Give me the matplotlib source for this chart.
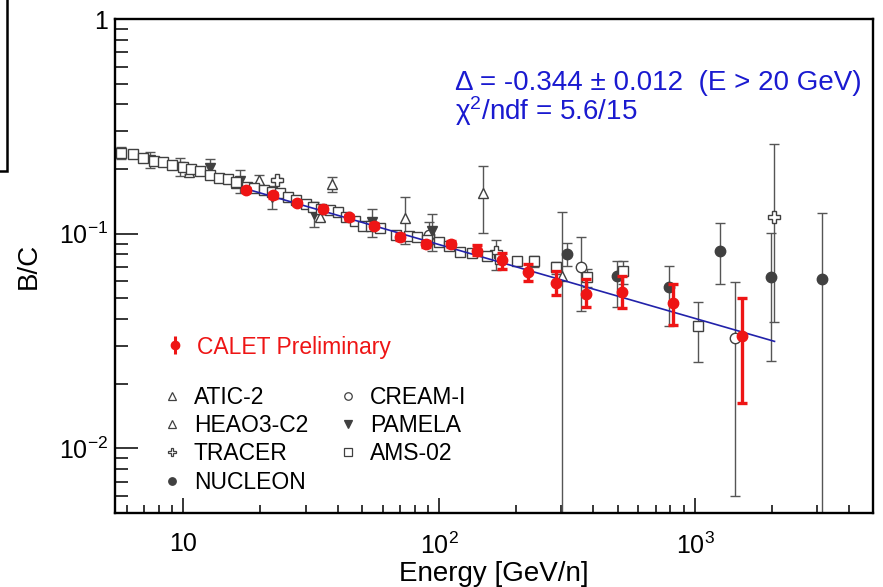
# B/C ratio vs kinetic energy per nucleon: CALET preliminary with other measurements
import numpy as np
import matplotlib
matplotlib.use('Agg')
import matplotlib.pyplot as plt
from matplotlib.ticker import FixedLocator, NullFormatter
from matplotlib.patches import Rectangle
from matplotlib.lines import Line2D

plt.rcParams['font.family'] = ['Liberation Sans', 'DejaVu Sans']
plt.rcParams['mathtext.fontset'] = 'custom'
plt.rcParams['mathtext.rm'] = 'Liberation Sans'
plt.rcParams['mathtext.it'] = 'Liberation Sans:italic'
plt.rcParams['mathtext.default'] = 'regular'

# CALET preliminary
calet_e = [17.6, 22.3, 27.9, 35.1, 44.2, 55.7, 70.4, 88.8, 111, 140, 176, 222, 286, 375, 517, 818, 1520]
calet_bc = [0.160, 0.151, 0.139, 0.131, 0.119, 0.109, 0.0969, 0.0898, 0.0895, 0.0833, 0.0757,
            0.0661, 0.0587, 0.0525, 0.0533, 0.0476, 0.0332]
calet_lo = [0.004, 0.004, 0.003, 0.003, 0.003, 0.003, 0.003, 0.003, 0.003, 0.004, 0.007,
            0.006, 0.0067, 0.007, 0.008, 0.010, 0.017]
calet_hi = [0.004, 0.004, 0.003, 0.003, 0.003, 0.003, 0.003, 0.003, 0.003, 0.005, 0.006,
            0.0064, 0.008, 0.009, 0.0105, 0.011, 0.017]

# power-law fit above 20 GeV/n
fit_delta = -0.344
fit_norm = 0.0889   # B/C at 100 GeV/n
fit_emin, fit_emax = 17.0, 2040.0

# AMS-02
ams_e = [5.68, 6.36, 6.96, 7.66, 8.33, 9.03, 10.0, 10.75, 11.65, 12.67, 13.74, 14.9, 16.1, 17.7,
         18.9, 20.6, 22.1, 23.8, 25.6, 27.6, 30.0, 32.2, 34.6, 37.3, 40.2, 43.3, 47.0, 50.1,
         54.2, 58.8, 67.9, 75.9, 81.8, 89.8, 99.4, 109, 120, 134, 153, 173, 201, 235, 286,
         377, 522, 1021]
ams_bc = [0.237, 0.235, 0.226, 0.2185, 0.2146, 0.2094, 0.2034, 0.200, 0.196, 0.188, 0.1815,
          0.1796, 0.1746, 0.1654, 0.1637, 0.1597, 0.1568, 0.154, 0.1475, 0.1439, 0.1374, 0.1335,
          0.1307, 0.1288, 0.1265, 0.120, 0.1149, 0.1089, 0.1089, 0.1063, 0.099, 0.098, 0.096,
          0.093, 0.091, 0.088, 0.082, 0.081, 0.079, 0.0765, 0.0749, 0.0743, 0.0697, 0.0626,
          0.0673, 0.0373]
ams_lo = [0.003, 0.003, 0.003, 0.003, 0.003, 0.003, 0.003, 0.003, 0.003, 0.003, 0.003, 0.003,
          0.003, 0.003, 0.003, 0.003, 0.003, 0.003, 0.003, 0.003, 0.003, 0.003, 0.003, 0.003,
          0.003, 0.003, 0.003, 0.003, 0.003, 0.003, 0.003, 0.003, 0.003, 0.003, 0.003, 0.003,
          0.003, 0.003, 0.003, 0.003, 0.003, 0.0047, 0.0045, 0.006, 0.009, 0.012]
ams_hi = [0.003, 0.003, 0.003, 0.003, 0.003, 0.003, 0.003, 0.003, 0.003, 0.003, 0.003, 0.003,
          0.003, 0.003, 0.003, 0.003, 0.003, 0.003, 0.003, 0.003, 0.003, 0.003, 0.003, 0.003,
          0.003, 0.003, 0.003, 0.003, 0.003, 0.003, 0.003, 0.003, 0.003, 0.003, 0.003, 0.003,
          0.003, 0.003, 0.003, 0.003, 0.003, 0.0047, 0.0045, 0.006, 0.007, 0.0106]

# PAMELA
pam_e = [5.7, 7.43, 9.67, 12.67, 16.7, 22.1, 32.3, 54.6, 93.5]
pam_bc = [0.238, 0.221, 0.205, 0.202, 0.176, 0.148, 0.124, 0.113, 0.1033]
pam_err = [0.015, 0.018, 0.020, 0.020, 0.022, 0.018, 0.016, 0.017, 0.020]

# HEAO3-C2
heao_e = [10.5, 16.1, 34.3]
heao_bc = [0.193, 0.172, 0.119]
heao_err = [0.004, 0.004, 0.004]

# ATIC-2
atic_e = [19.7, 38.1, 73.6, 148, 301]
atic_bc = [0.178, 0.170, 0.118, 0.154, 0.0638]
atic_lo = [0.009, 0.013, 0.028, 0.053, 0.0628]
atic_hi = [0.009, 0.013, 0.030, 0.053, 0.0627]

# TRACER
tracer_e = [23.3, 166, 2024]
tracer_bc = [0.178, 0.0824, 0.120]
tracer_lo = [0.004, 0.015, 0.0813]
tracer_hi = [0.004, 0.011, 0.141]

# CREAM-I
cream_e = [91, 359, 1432]
cream_bc = [0.0985, 0.0702, 0.0326]
cream_lo = [0.009, 0.0266, 0.0266]
cream_hi = [0.015, 0.0266, 0.0268]

# NUCLEON
nuc_e = [316, 494, 791, 1253, 1982, 3140]
nuc_bc = [0.0805, 0.0638, 0.0562, 0.0834, 0.0627, 0.0615]
nuc_lo = [0.0095, 0.0184, 0.0189, 0.0254, 0.0372, 0.0605]
nuc_hi = [0.010, 0.011, 0.0148, 0.0283, 0.0376, 0.0628]

xticks = [10, 100, 1000]
xticklabels = ['10', '10$^{2}$', '10$^{3}$']
yticks = [0.01, 0.1, 1]
yticklabels = ['10$^{-2}$', '10$^{-1}$', '1']

fig = plt.figure(figsize=(8.83, 5.87), dpi=100)
ax = fig.add_axes([0.1302, 0.1261, 0.8585, 0.8415])
ax.set_xscale('log')
ax.set_yscale('log')

gray = '#404040'
bar_gray = '#555555'


def draw(e, bc, lo, hi, marker, face, ms):
    ax.errorbar(e, bc, yerr=[lo, hi], fmt=marker, mfc=face, mec=gray, ms=ms, mew=1.0,
                ecolor=bar_gray, elinewidth=1.0, capsize=3.5, capthick=1.0, zorder=2)
    # marker-only proxy for the legend
    return Line2D([], [], ls='none', marker=marker, mfc=face, mec=gray, ms=ms * 0.72, mew=0.9)


h_atic = draw(atic_e, atic_bc, atic_lo, atic_hi, '^', 'white', 7.5)
h_heao = draw(heao_e, heao_bc, heao_err, heao_err, '^', 'white', 7.5)
h_tracer = draw(tracer_e, tracer_bc, tracer_lo, tracer_hi, 'P', 'white', 8.5)
h_nuc = draw(nuc_e, nuc_bc, nuc_lo, nuc_hi, 'o', gray, 7.5)
h_cream = draw(cream_e, cream_bc, cream_lo, cream_hi, 'o', 'white', 7.5)
h_pam = draw(pam_e, pam_bc, pam_err, pam_err, 'v', gray, 7.5)
h_ams = draw(ams_e, ams_bc, ams_lo, ams_hi, 's', 'white', 7.5)

fit_x = np.logspace(np.log10(fit_emin), np.log10(fit_emax), 60)
ax.plot(fit_x, fit_norm * (fit_x / 100.0) ** fit_delta, color='#2222aa', lw=1.2, zorder=3)

red = '#ee1515'
ax.errorbar(calet_e, calet_bc, yerr=[calet_lo, calet_hi], fmt='o', color=red,
            ms=7.5, elinewidth=2.4, capsize=3.5, capthick=2.4, zorder=4)

ax.set_xlim(5.4, 4950)
ax.set_ylim(0.005, 1)

ax.xaxis.set_major_locator(FixedLocator(xticks))
ax.set_xticklabels(xticklabels)
ax.yaxis.set_major_locator(FixedLocator(yticks))
ax.set_yticklabels(yticklabels)
ax.xaxis.set_minor_formatter(NullFormatter())
ax.yaxis.set_minor_formatter(NullFormatter())

ax.tick_params(which='both', direction='in', top=False, right=False, width=1.1, labelsize=18)
ax.tick_params(axis='x', which='major', length=11, pad=14)
ax.tick_params(axis='x', which='minor', length=5.5)
ax.tick_params(axis='y', which='major', length=16.5, pad=5)
ax.tick_params(axis='y', which='minor', length=9.5)
for sp in ax.spines.values():
    sp.set_linewidth(1.7)

ax.set_xlabel('Energy [GeV/n]', fontsize=20)
ax.set_ylabel('B/C', fontsize=20)
ax.xaxis.set_label_coords(0.5, -0.097)
ax.yaxis.set_label_coords(-0.097, 0.5)

# fit result
blue = '#1a1ad0'
ax.text(0.4485, 0.897, '\u0394 = -0.344 \u00b1 0.012  (E > 20 GeV)\n\u03c7$^{2}$/ndf = 5.6/15',
        transform=ax.transAxes, color=blue, fontsize=20, va='top', ha='left',
        linespacing=0.92)

# legends
calet_bar = Line2D([], [], ls='none', marker='|', color=red, ms=13, mew=2.2)
calet_dot = Line2D([], [], ls='none', marker='o', color=red, ms=6)
leg1 = ax.legend([(calet_bar, calet_dot)], ['CALET Preliminary'], loc='center left',
                 bbox_to_anchor=(0.064, 0.336), frameon=False, fontsize=16.5,
                 borderpad=0, borderaxespad=0, handlelength=1.0, handletextpad=0.46)
leg1.get_texts()[0].set_color(red)
ax.add_artist(leg1)

others = [h_atic, h_heao, h_tracer, h_nuc, h_cream, h_pam, h_ams]
labels = ['ATIC-2', 'HEAO3-C2', 'TRACER', 'NUCLEON', 'CREAM-I', 'PAMELA', 'AMS-02']
ax.legend(others, labels, loc='center left', bbox_to_anchor=(0.060, 0.1478),
          ncol=2, frameon=False, fontsize=16.5, borderpad=0, borderaxespad=0,
          handlelength=1.0, handletextpad=0.46, columnspacing=1.25, labelspacing=0.22)

# edge of the neighbouring panel
fig.add_artist(Rectangle((-0.02, 0.7087), 0.0279, 0.4, transform=fig.transFigure,
                         fill=False, lw=1.8, ec='black'))

fig.savefig('out.png', dpi=100)
